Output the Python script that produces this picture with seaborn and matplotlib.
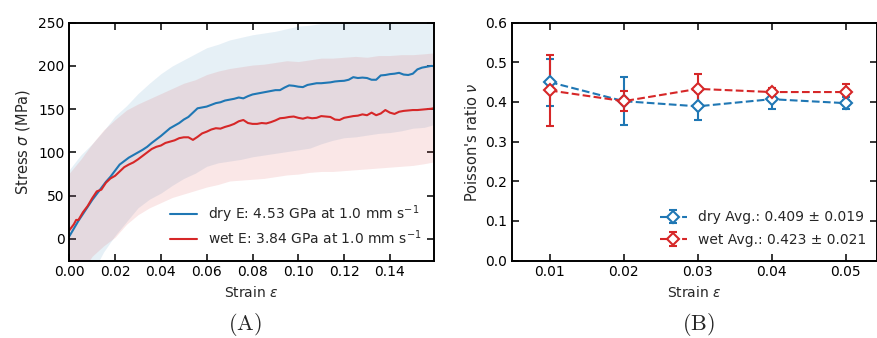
import matplotlib
matplotlib.use("Agg")
import matplotlib.pyplot as plt
import numpy as np
import pandas as pd
import seaborn as sns

# ---- stress-strain curves (mean response) ----
dry_strain = [0.000, 0.002, 0.004, 0.006, 0.008, 0.010, 0.012, 0.014, 0.016, 0.018,
              0.020, 0.022, 0.024, 0.026, 0.028, 0.030, 0.032, 0.034, 0.036, 0.038,
              0.040, 0.042, 0.044, 0.046, 0.048, 0.050, 0.052, 0.054, 0.056, 0.058,
              0.060, 0.062, 0.064, 0.066, 0.068, 0.070, 0.072, 0.074, 0.076, 0.078,
              0.080, 0.082, 0.084, 0.086, 0.088, 0.090, 0.092, 0.094, 0.096, 0.098,
              0.100, 0.102, 0.104, 0.106, 0.108, 0.110, 0.112, 0.114, 0.116, 0.118,
              0.120, 0.122, 0.124, 0.126, 0.128, 0.130, 0.132, 0.134, 0.136, 0.138,
              0.140, 0.142, 0.144, 0.146, 0.148, 0.150, 0.152, 0.154, 0.156, 0.158, 0.159]
dry_stress = [3, 12, 21, 29, 37, 45, 52, 59, 66, 72,
              79, 86, 90, 94, 97, 100, 103, 106.5, 111, 115,
              119, 123.5, 128, 131, 134, 138, 141, 146, 151, 152,
              153, 155, 157, 158, 160, 161, 162, 163.5, 162.5, 165,
              167, 168, 169, 170, 171, 172, 172, 175, 177.5, 177,
              176, 175.5, 178, 179, 180, 180, 180.5, 181, 182, 182.5,
              182.8, 184, 187, 186, 186.5, 186, 184, 184, 189, 189.5,
              190.5, 191, 192, 190, 189.5, 191, 196, 198, 199, 200, 199.8]

wet_strain = [0.000, 0.002, 0.003, 0.004, 0.006, 0.008, 0.010, 0.012, 0.014, 0.016,
              0.018, 0.020, 0.022, 0.024, 0.026, 0.028, 0.030, 0.032, 0.034, 0.036,
              0.038, 0.040, 0.042, 0.044, 0.046, 0.048, 0.050, 0.052, 0.054, 0.056,
              0.058, 0.060, 0.062, 0.064, 0.066, 0.068, 0.070, 0.072, 0.074, 0.076,
              0.078, 0.080, 0.082, 0.084, 0.086, 0.088, 0.090, 0.092, 0.094, 0.096,
              0.098, 0.100, 0.102, 0.104, 0.106, 0.108, 0.110, 0.112, 0.114, 0.116,
              0.118, 0.120, 0.122, 0.124, 0.126, 0.128, 0.130, 0.132, 0.134, 0.136,
              0.138, 0.140, 0.142, 0.144, 0.146, 0.148, 0.150, 0.152, 0.154, 0.156,
              0.158, 0.159]
wet_stress = [10, 17, 22, 22, 31, 38, 47, 55, 57, 65,
              70, 73, 78, 83, 86, 88.5, 92, 96, 100, 104,
              106.5, 108, 111, 112.5, 114, 116.5, 117.5, 117.5, 114.5, 118,
              122, 124, 126.5, 128, 127.5, 129.5, 131, 133, 136, 137.5,
              134, 133, 133, 134, 133.5, 135, 137, 139.5, 140, 141,
              141.5, 140, 139, 140.5, 139.5, 140, 142, 141.5, 141, 138,
              137.5, 140, 141, 142, 142.5, 144, 143, 146, 143, 145,
              149, 146, 144.5, 147, 148, 148.5, 149, 149, 149.5, 150,
              150.5, 151]

# ---- scatter bands (min/max over specimens) ----
band_strain = [0.000, 0.005, 0.010, 0.015, 0.020, 0.025, 0.030, 0.035, 0.040, 0.045,
               0.050, 0.055, 0.060, 0.065, 0.070, 0.075, 0.080, 0.085, 0.090, 0.095,
               0.100, 0.105, 0.110, 0.115, 0.120, 0.125, 0.130, 0.135, 0.140, 0.145,
               0.150, 0.155, 0.159]
dry_upper = [80, 97, 110, 125, 142, 154, 168, 180, 191, 200,
             207, 214, 221, 225, 230, 233, 236, 238, 240, 243,
             246, 247, 249, 251, 253, 254, 255, 256, 258, 257,
             259, 260, 261]
dry_lower = [-80, -60, -40, -15, 4, 20, 36, 46, 53, 62,
             70, 76, 84, 88, 90, 92, 95, 97, 99, 101,
             103, 105, 110, 114, 117, 118, 120, 122, 123, 125,
             128, 129, 132]
wet_upper = [76, 92, 110, 126, 138, 149, 156, 162, 168, 174,
             180, 184, 190, 194, 197, 199, 201, 202, 204, 206,
             205, 207, 209, 209, 210, 211, 210, 212, 212, 213,
             213, 214, 215]
wet_lower = [-60, -40, -20, -8, 2, 17, 28, 36, 42, 48,
             52, 56, 60, 63, 67, 68, 69, 70, 72, 74,
             75, 77, 78, 78, 79, 80, 81, 82, 83, 84,
             85, 87, 89]

dry_label = "dry E: 4.53 GPa at 1.0 mm s$^{-1}$"
wet_label = "wet E: 3.84 GPa at 1.0 mm s$^{-1}$"

# ---- Poisson's ratio ----
nu_strain = [0.01, 0.02, 0.03, 0.04, 0.05]
dry_nu = [0.450, 0.402, 0.389, 0.407, 0.397]
dry_nu_err = [0.059, 0.060, 0.035, 0.026, 0.016]
wet_nu = [0.429, 0.402, 0.433, 0.425, 0.425]
wet_nu_err = [0.090, 0.025, 0.037, 0.010, 0.020]
dry_nu_label = "dry Avg.: 0.409 ± 0.019"
wet_nu_label = "wet Avg.: 0.423 ± 0.021"

BLUE = "#1f77b4"
RED = "#d62728"

sns.set_style("ticks")
plt.rcParams.update({
    "font.family": ["DejaVu Sans"],
    "mathtext.fontset": "dejavusans",
    "font.size": 10,
    "axes.linewidth": 1.4,
    "axes.edgecolor": "black",
    "xtick.direction": "in",
    "ytick.direction": "in",
    "xtick.top": True,
    "ytick.right": True,
    "xtick.major.size": 5,
    "ytick.major.size": 5,
    "xtick.major.width": 1.1,
    "ytick.major.width": 1.1,
    "xtick.labelsize": 10,
    "ytick.labelsize": 10,
    "xtick.color": "black",
    "ytick.color": "black",
    "axes.labelsize": 10.5,
})

fig = plt.figure(figsize=(8.77, 3.38), dpi=100)
ax1 = fig.add_axes([0.079, 0.229, 0.416, 0.704])
ax2 = fig.add_axes([0.584, 0.229, 0.4155, 0.704])

# left: stress-strain
ax1.fill_between(band_strain, dry_lower, dry_upper, color=BLUE, alpha=0.11, linewidth=0)
ax1.fill_between(band_strain, wet_lower, wet_upper, color=RED, alpha=0.11, linewidth=0)
dry_df = pd.DataFrame({"strain": dry_strain, "stress": dry_stress})
wet_df = pd.DataFrame({"strain": wet_strain, "stress": wet_stress})
sns.lineplot(data=dry_df, x="strain", y="stress", ax=ax1, color=BLUE, linewidth=1.5,
             estimator=None, sort=False, label=dry_label)
sns.lineplot(data=wet_df, x="strain", y="stress", ax=ax1, color=RED, linewidth=1.5,
             estimator=None, sort=False, label=wet_label)
ax1.set_xlim(0, 0.1593)
ax1.set_ylim(-25, 250)
ax1.set_xticks(np.arange(0, 0.141, 0.02))
ax1.set_xticklabels([f"{v:.2f}" for v in np.arange(0, 0.141, 0.02)])
ax1.set_yticks([0, 50, 100, 150, 200, 250])
ax1.set_xlabel("Strain $\\varepsilon$", fontsize=10)
ax1.set_ylabel("Stress $\\sigma$ (MPa)")
ax1.legend(loc="lower right", frameon=False, fontsize=10, handlelength=2.0,
           labelspacing=0.25, borderaxespad=0.6, bbox_to_anchor=(1.005, 0))

# right: Poisson's ratio
ax2.errorbar(nu_strain, dry_nu, yerr=dry_nu_err, fmt="D--", color=BLUE, mfc="white",
             mec=BLUE, mew=1.5, markersize=6, linewidth=1.5, capsize=3, elinewidth=1.5,
             capthick=1.5, label=dry_nu_label)
ax2.errorbar(nu_strain, wet_nu, yerr=wet_nu_err, fmt="D--", color=RED, mfc="white",
             mec=RED, mew=1.5, markersize=6, linewidth=1.5, capsize=3, elinewidth=1.5,
             capthick=1.5, label=wet_nu_label)
ax2.set_xlim(0.0049, 0.0542)
ax2.set_ylim(0, 0.6)
ax2.set_xticks(nu_strain)
ax2.set_xticklabels([f"{v:.2f}" for v in nu_strain])
ax2.set_yticks(np.arange(0, 0.61, 0.1))
ax2.set_yticklabels([f"{v:.1f}" for v in np.arange(0, 0.61, 0.1)])
ax2.set_xlabel("Strain $\\varepsilon$", fontsize=10)
ax2.set_ylabel("Poisson's ratio $\\nu$")
ax2.legend(loc="lower right", frameon=False, fontsize=10, handlelength=2.0,
           labelspacing=0.6, borderaxespad=0.6, bbox_to_anchor=(1.011, 0))

for ax in (ax1, ax2):
    for sp in ax.spines.values():
        sp.set_visible(True)
        sp.set_color("black")

fig.text(0.279, 0.0385, r"$(\mathrm{A})$", math_fontfamily="cm", fontsize=16,
         ha="center", va="center")
fig.text(0.796, 0.0385, r"$(\mathrm{B})$", math_fontfamily="cm", fontsize=16,
         ha="center", va="center")

fig.savefig("out.png", dpi=100)
